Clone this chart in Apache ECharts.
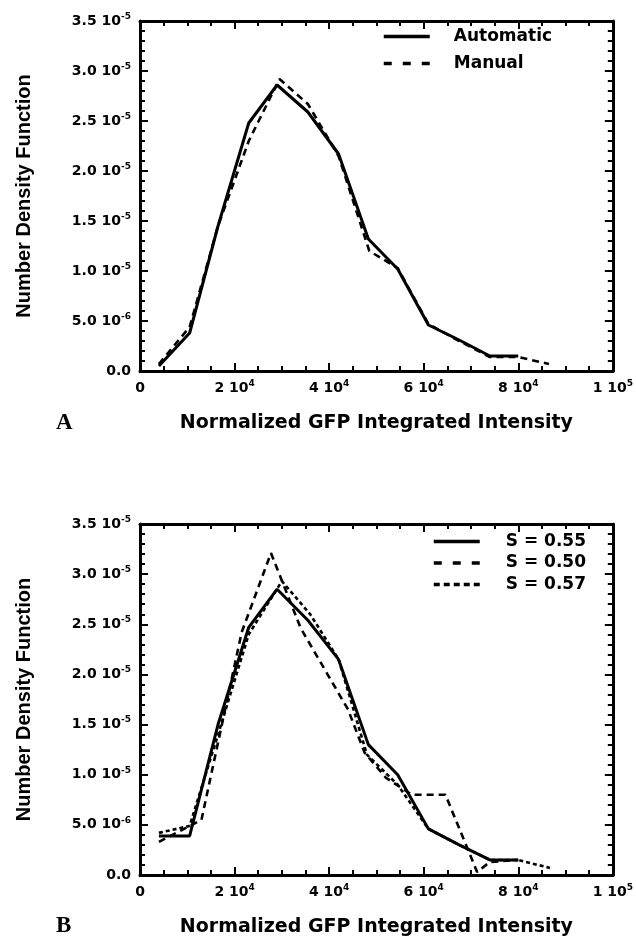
<!DOCTYPE html>
<html><head><meta charset="utf-8">
<script src="https://cdn.jsdelivr.net/npm/echarts@6/dist/echarts.min.js"></script>
<style>html,body{margin:0;padding:0;background:#fff}#c{width:636px;height:939px}</style>
</head><body><div id="c"></div>
<script>
// ---- data ----
const xTickValues = [0, 20000, 40000, 60000, 80000, 100000];
const xTickMantissa = ['0', '2', '4', '6', '8', '1'];
const xTickExp = ['', '4', '4', '4', '4', '5'];
const yTickValues = [0, 5e-6, 1e-5, 1.5e-5, 2e-5, 2.5e-5, 3e-5, 3.5e-5];
const yTickMantissa = ['0.0', '5.0', '1.0', '1.5', '2.0', '2.5', '3.0', '3.5'];
const yTickExp = ['', '-6', '-5', '-5', '-5', '-5', '-5', '-5'];

// Panel A
const xAutomatic = [4000, 10500, 16500, 23000, 29000, 35500, 42000, 48300, 54500, 61000, 67500, 74000, 80000];
const yAutomatic = [0.05e-5, 0.38e-5, 1.45e-5, 2.48e-5, 2.86e-5, 2.59e-5, 2.17e-5, 1.32e-5, 1.02e-5, 0.46e-5, 0.31e-5, 0.15e-5, 0.15e-5];
const xManual = [4000, 10500, 16500, 23000, 29500, 35500, 42000, 48500, 54500, 61000, 67500, 74000, 80000, 86500];
const yManual = [0.07e-5, 0.44e-5, 1.45e-5, 2.30e-5, 2.92e-5, 2.67e-5, 2.15e-5, 1.20e-5, 1.03e-5, 0.47e-5, 0.30e-5, 0.14e-5, 0.14e-5, 0.07e-5];

// Panel B
const xS055 = [4000, 10500, 16500, 23000, 29000, 35500, 42000, 48300, 54500, 61000, 67500, 74000, 80000];
const yS055 = [0.39e-5, 0.39e-5, 1.50e-5, 2.47e-5, 2.85e-5, 2.54e-5, 2.15e-5, 1.30e-5, 1.00e-5, 0.46e-5, 0.30e-5, 0.15e-5, 0.15e-5];
const xS050 = [4000, 13000, 21500, 27700, 34000, 44000, 47500, 52000, 57500, 64600, 71300, 74000, 80000];
const yS050 = [0.33e-5, 0.55e-5, 2.42e-5, 3.21e-5, 2.46e-5, 1.65e-5, 1.22e-5, 0.97e-5, 0.80e-5, 0.80e-5, 0.03e-5, 0.13e-5, 0.15e-5];
const xS057 = [4000, 10500, 16500, 23000, 30000, 36000, 42000, 48000, 54500, 61000, 67500, 74000, 80000, 86700];
const yS057 = [0.42e-5, 0.49e-5, 1.40e-5, 2.40e-5, 2.93e-5, 2.60e-5, 2.15e-5, 1.20e-5, 0.90e-5, 0.46e-5, 0.30e-5, 0.15e-5, 0.15e-5, 0.07e-5];

const namesA = ['Automatic', 'Manual'];
const namesB = ['S = 0.55', 'S = 0.50', 'S = 0.57'];

// ---- helpers ----
function pairs(xs, ys) { return xs.map((x, i) => [x, ys[i]]); }
function findIdx(vals, v) {
  for (let i = 0; i < vals.length; i++) if (Math.abs(vals[i] - v) <= Math.abs(vals[i]) * 1e-6 + 1e-12) return i;
  return -1;
}
function xFmt(v) {
  const i = findIdx(xTickValues, v); if (i < 0) return '';
  return xTickExp[i] ? '{m|' + xTickMantissa[i] + ' 10}{s|' + xTickExp[i] + '}' : '{m|' + xTickMantissa[i] + '}';
}
function yFmt(v) {
  const i = findIdx(yTickValues, v); if (i < 0) return '';
  return yTickExp[i] ? '{m|' + yTickMantissa[i] + ' 10}{s|' + yTickExp[i] + '}' : '{m|' + yTickMantissa[i] + '}';
}
const LBL = 'DejaVu Sans';
const rich = {
  m: { fontFamily: LBL, fontWeight: 'bold', fontSize: 14, color: '#000', lineHeight: 16 },
  s: { fontFamily: LBL, fontWeight: 'bold', fontSize: 9, color: '#000', lineHeight: 16, padding: [0, 0, 8, 0], verticalAlign: 'bottom' }
};
const axisLine = { show: true, onZero: false, lineStyle: { color: '#000', width: 3 } };
const axisTick = { show: true, inside: true, length: 8, lineStyle: { color: '#000', width: 2 } };
const minorTick = (n) => ({ show: true, splitNumber: n, length: 5, lineStyle: { color: '#000', width: 2 } });

function xAxes(gi) {
  return [
    { type: 'value', gridIndex: gi, min: 0, max: 100000, interval: 20000, position: 'bottom',
      axisLine, axisTick, minorTick: minorTick(4), splitLine: { show: false },
      axisLabel: { margin: 9, formatter: xFmt, rich },
      name: 'Normalized GFP Integrated Intensity', nameLocation: 'middle', nameGap: 43,
      nameTextStyle: { fontFamily: LBL, fontWeight: 'bold', fontSize: 19, color: '#000', verticalAlign: 'top' } },
    { type: 'value', gridIndex: gi, min: 0, max: 100000, interval: 20000, position: 'top',
      axisLine, axisTick, minorTick: minorTick(4), splitLine: { show: false }, axisLabel: { show: false } }
  ];
}
function yAxes(gi) {
  return [
    { type: 'value', gridIndex: gi, min: 0, max: 3.5e-5, interval: 5e-6, position: 'left',
      axisLine, axisTick, minorTick: minorTick(5), splitLine: { show: false },
      axisLabel: { margin: 9, formatter: yFmt, rich },
      name: 'Number Density Function', nameLocation: 'middle', nameGap: 106, nameRotate: 90,
      nameTextStyle: { fontFamily: 'Liberation Sans', fontWeight: 'bold', fontSize: 20, color: '#000' } },
    { type: 'value', gridIndex: gi, min: 0, max: 3.5e-5, interval: 5e-6, position: 'right',
      axisLine, axisTick, minorTick: minorTick(5), splitLine: { show: false }, axisLabel: { show: false } }
  ];
}
function line(name, data, xi, yi, type) {
  return { name, type: 'line', data, xAxisIndex: xi, yAxisIndex: yi, symbol: 'none', showSymbol: false,
    lineStyle: { color: '#000', width: type === 'solid' ? 3 : 2.6, type, cap: 'butt' }, itemStyle: { color: '#000' } };
}
const legendText = (pad) => ({ fontFamily: LBL, fontWeight: 'bold', fontSize: 17, color: '#000', padding: [0, 0, 0, pad] });
const legendItem = { color: 'transparent', borderWidth: 0, opacity: 0 };
const legendLine = (type) => ({ color: '#000', width: 3.5, type, cap: 'butt' });

const option = {
  backgroundColor: '#fff',
  animation: false,
  grid: [
    { left: 140, top: 21, width: 476, height: 350 },
    { left: 140, top: 524, width: 476, height: 351 }
  ],
  xAxis: [...xAxes(0), ...xAxes(1)],
  yAxis: [...yAxes(0), ...yAxes(1)],
  legend: [
    { data: [
        { name: namesA[0], lineStyle: legendLine('solid') },
        { name: namesA[1], lineStyle: legendLine([8, 11]) }
      ],
      orient: 'vertical', left: 377, top: 23, itemWidth: 46, itemHeight: 14, itemGap: 10,
      itemStyle: legendItem, lineStyle: { width: 3.5 }, textStyle: legendText(19) },
    { data: [
        { name: namesB[0], lineStyle: legendLine('solid') },
        { name: namesB[1], lineStyle: legendLine([8, 11]) },
        { name: namesB[2], lineStyle: legendLine([6, 4]) }
      ],
      orient: 'vertical', left: 427, top: 528, itemWidth: 46, itemHeight: 14, itemGap: 4.5,
      itemStyle: legendItem, lineStyle: { width: 3.5 }, textStyle: legendText(21) }
  ],
  series: [
    line(namesA[0], pairs(xAutomatic, yAutomatic), 0, 0, 'solid'),
    line(namesA[1], pairs(xManual, yManual), 0, 0, [7, 5]),
    line(namesB[0], pairs(xS055, yS055), 2, 2, 'solid'),
    line(namesB[1], pairs(xS050, yS050), 2, 2, [7, 5]),
    line(namesB[2], pairs(xS057, yS057), 2, 2, [4, 3])
  ],
  graphic: [
    { type: 'text', left: 56, top: 412, style: { text: 'A', fontFamily: 'Liberation Serif', fontWeight: 'bold', fontSize: 23, fill: '#000' } },
    { type: 'text', left: 56, top: 915, style: { text: 'B', fontFamily: 'Liberation Serif', fontWeight: 'bold', fontSize: 23, fill: '#000' } }
  ]
};
const chart = echarts.init(document.getElementById('c'), null, { renderer: 'canvas' });
chart.setOption(option);
</script></body></html>
